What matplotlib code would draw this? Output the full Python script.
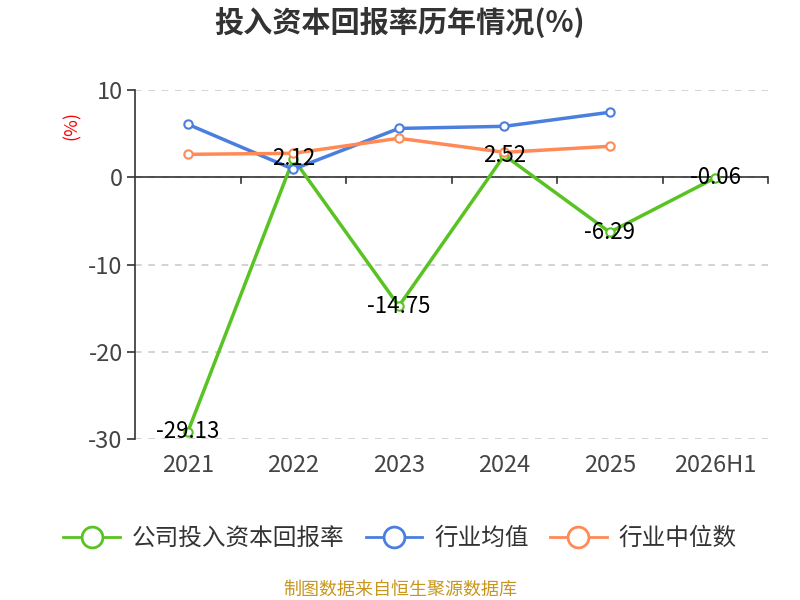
import matplotlib
matplotlib.use('Agg')
import matplotlib.pyplot as plt
from matplotlib.lines import Line2D
import numpy as np

plt.rcParams['font.family'] = ['Noto Sans CJK SC', 'DejaVu Sans']
plt.rcParams['axes.unicode_minus'] = False

# data
years = ['2021', '2022', '2023', '2024', '2025', '2026H1']
company = [-29.13, 2.12, -14.75, 2.52, -6.29, -0.06]
industry_avg = [6.07, 0.92, 5.6, 5.84, 7.45]
industry_median = [2.63, 2.75, 4.47, 2.86, 3.55]
labels = ['公司投入资本回报率', '行业均值', '行业中位数']

green = '#58c322'
blue = '#4a7fe0'
orange = '#ff8a55'

fig = plt.figure(figsize=(8, 6), dpi=100)
ax = fig.add_axes([0.169, 0.268, 0.791, 0.582])

x = np.arange(len(years))
ax.plot(x, company, color=green, lw=2.5, marker='o', ms=6, mfc='white',
        mec=green, mew=1.5, zorder=3)
ax.plot(x[:len(industry_avg)], industry_avg, color=blue, lw=2.5, marker='o', ms=6,
        mfc='white', mec=blue, mew=1.5, zorder=4)
ax.plot(x[:len(industry_median)], industry_median, color=orange, lw=2.5, marker='o', ms=6,
        mfc='white', mec=orange, mew=1.5, zorder=4)

for xi, v in zip(x, company):
    ax.text(xi, v, '%.2f' % v, ha='center', va='center', fontsize=16,
            color='black', zorder=5)

ax.set_xlim(-0.5, len(years) - 0.5)
ax.set_ylim(-30, 10)
ax.set_yticks([10, 0, -10, -20, -30])
ax.yaxis.grid(True, ls=(0, (4, 4)), color='#cccccc', lw=1.2)
ax.set_axisbelow(True)

for s in ['top', 'right', 'bottom']:
    ax.spines[s].set_visible(False)
ax.spines['left'].set_color('#333333')
ax.spines['left'].set_linewidth(1.2)

# zero line acting as the category axis
ax.axhline(0, color='#333333', lw=1.2, zorder=2)
for b in np.arange(0.5, len(years), 1.0):
    ax.plot([b, b], [0, -0.6], color='#333333', lw=1.2, clip_on=False, zorder=2)

ax.set_xticks(x)
ax.set_xticklabels(years)
ax.tick_params(axis='x', length=0, pad=11, labelsize=17, labelcolor='#444444')
ax.tick_params(axis='y', length=6, width=1.2, color='#333333', labelsize=17,
               labelcolor='#444444', pad=3)

fig.text(0.09, 0.79, '(%)', color='red', fontsize=13, rotation=90,
         ha='center', va='center')
fig.text(0.5, 0.962, '投入资本回报率历年情况(%)', ha='center', va='center',
         fontsize=21, fontweight='bold', color='#333333')

handles = [Line2D([], [], color=c, lw=2, marker='o', ms=15, mfc='white',
                  mec=c, mew=2) for c in [green, blue, orange]]
fig.legend(handles, labels, loc='center', bbox_to_anchor=(0.5, 0.102), ncol=3,
           frameon=False, fontsize=17, handlelength=2.4, columnspacing=0.9,
           handletextpad=0.5, labelcolor='#333333')
fig.text(0.5, 0.018, '制图数据来自恒生聚源数据库', ha='center', va='center',
         fontsize=13, color='#c8961e')

fig.savefig('out.png', dpi=100)
